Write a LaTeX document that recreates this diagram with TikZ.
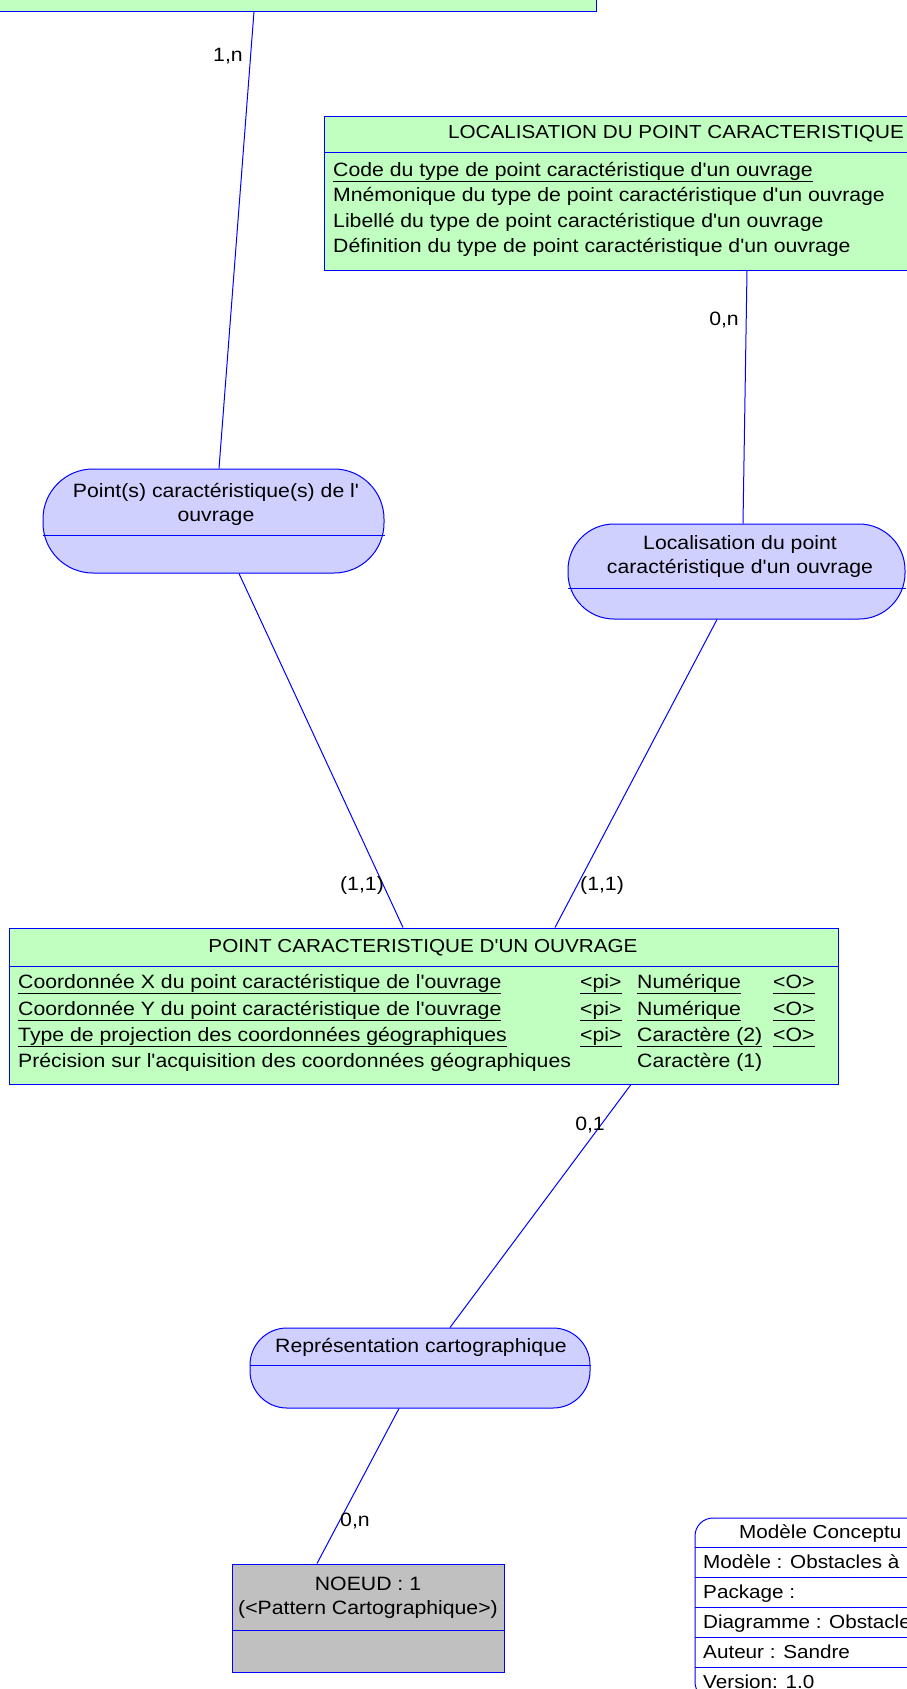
\documentclass[tikz,border=0pt]{standalone}
\usepackage{fontspec}
\setmainfont{Liberation Sans}[FakeStretch=1.1, Ligatures=TeXOff]
\usepackage{tikz}
\usetikzlibrary{positioning}
\definecolor{entgreen}{RGB}{192,255,192}
\definecolor{assocblue}{RGB}{208,208,255}
\definecolor{linkblue}{RGB}{0,0,255}
\definecolor{noeudgray}{RGB}{192,192,192}
\newcommand{\pk}[1]{\underline{#1\vphantom{g}}}
\newcommand{\attrow}[4]{\makebox[562pt][l]{#1}\makebox[57pt][l]{#2}\makebox[136pt][l]{#3}#4}

\begin{document}
\begin{tikzpicture}[x=1pt, y=-1pt, font={\fontsize{19.3}{24}\selectfont},
  entity/.style={draw=linkblue, fill=entgreen, line width=1pt, inner sep=0},
  assoc/.style={draw=linkblue, fill=assocblue, line width=1pt, rounded corners=50pt, inner sep=0},
  link/.style={linkblue, line width=1pt},
  lbl/.style={inner sep=0, text height=14pt, text depth=4pt},
  txt/.style={lbl, anchor=west},
  small/.style={font={\fontsize{18.8}{24}\selectfont}}]
  \useasboundingbox (0,0) rectangle (906,1689);
  % Entities
  \node[entity, minimum width=626pt, minimum height=71pt] (ouv) at (283,-24.5) {};
  \node[entity, minimum width=704pt, minimum height=154pt] (loc) at (676,193) {};
  \node[entity, minimum width=829pt, minimum height=156pt] (pco) at (423.5,1006) {};
  \node[entity, fill=noeudgray, minimum width=272pt, minimum height=108pt] (noeud) at (368,1618) {};
  \draw[link] ([yshift=-37pt]loc.north west) -- ([yshift=-37pt]loc.north east);
  \draw[link] ([yshift=-39pt]pco.north west) -- ([yshift=-39pt]pco.north east);
  \draw[link] ([yshift=-67pt]noeud.north west) -- ([yshift=-67pt]noeud.north east);
  % Associations
  \node[assoc, minimum width=341pt, minimum height=104pt] (a1) at (213.5,521) {};
  \node[assoc, rounded corners=46pt, minimum width=337pt, minimum height=95pt] (a2) at (736.5,571.5) {};
  \node[assoc, rounded corners=37pt, minimum width=340pt, minimum height=80pt] (a3) at (420,1368) {};
  \draw[link] ([yshift=-67pt]a1.north west) -- ([yshift=-67pt]a1.north east);
  \draw[link] ([yshift=-65pt]a2.north west) -- ([yshift=-65pt]a2.north east);
  \draw[link] ([yshift=-38pt]a3.north west) -- ([yshift=-38pt]a3.north east);
  % Links
  \draw[link] ([xshift=-29pt]ouv.south) -- ([xshift=5.5pt]a1.north);
  \draw[link] ([xshift=71pt]loc.south) -- ([xshift=6.5pt]a2.north);
  \draw[link] ([xshift=25.5pt]a1.south) -- ([xshift=-20.5pt]pco.north);
  \draw[link] ([xshift=-19.5pt]a2.south) -- ([xshift=131.5pt]pco.north);
  \draw[link] ([xshift=207.5pt]pco.south) -- ([xshift=30pt]a3.north);
  \draw[link] ([xshift=-21pt]a3.south) -- ([xshift=-51pt]noeud.north);
  % Cardinalities
  \node[lbl] (c1) at (228,56) {1,n};
  \node[lbl] (c2) at (724,320) {0,n};
  \node[lbl] (c3) at (362,885) {(1,1)};
  \node[lbl] (c4) at (602,885) {(1,1)};
  \node[lbl] (c5) at (590,1125) {0,1};
  \node[lbl] (c6) at (355,1521) {0,n};
  % Texts
  \node[lbl, small] (loc-t) at (676,133) {LOCALISATION DU POINT CARACTERISTIQUE};
  \node[txt] (loc-1) at (333,171) {\pk{Code du type de point caractéristique d'un ouvrage}};
  \node[txt] (loc-2) at (333,196) {Mnémonique du type de point caractéristique d'un ouvrage};
  \node[txt] (loc-3) at (333,222) {Libellé du type de point caractéristique d'un ouvrage};
  \node[txt] (loc-4) at (333,247) {Définition du type de point caractéristique d'un ouvrage};
  \node[inner sep=0, align=center] (a1-t) at (216,504) {Point(s) caractéristique(s) de l'\\ouvrage};
  \node[inner sep=0, align=center] (a2-t) at (740,557) {Localisation du point\\caractéristique d'un ouvrage};
  \node[lbl, small] (pco-t) at (423,947) {POINT CARACTERISTIQUE D'UN OUVRAGE};
  \node[txt] (pco-1) at (18,983) {\attrow{\pk{Coordonnée X du point caractéristique de l'ouvrage}}{\pk{<pi>}}{\pk{Numérique}}{\pk{<O>}}};
  \node[txt] (pco-2) at (18,1010) {\attrow{\pk{Coordonnée Y du point caractéristique de l'ouvrage}}{\pk{<pi>}}{\pk{Numérique}}{\pk{<O>}}};
  \node[txt] (pco-3) at (18,1036) {\attrow{\pk{Type de projection des coordonnées géographiques}}{\pk{<pi>}}{\pk{Caractère (2)}}{\pk{<O>}}};
  \node[txt] (pco-4) at (18,1062) {\attrow{Précision sur l'acquisition des coordonnées géographiques}{}{Caractère (1)}{}};
  \node[lbl] (a3-t) at (421,1347) {Représentation cartographique};
  \node[inner sep=0, align=center] (noeud-t) at (368,1598) {NOEUD : 1\\(<Pattern Cartographique>)};
  % Model info
  \node[draw=linkblue, fill=white, line width=1pt, rounded corners=18pt, minimum width=420pt, minimum height=182pt] (info) at (905,1609) {};
  \foreach \k in {1,...,5}
    \draw[link] ([yshift=-30*\k]info.north west) -- ([yshift=-30*\k]info.north east);
  \node[txt, small] (info-t) at (739,1533) {Modèle Conceptu};
  \node[txt, small] (info-1) at (703,1563) {Modèle : Obstacles à};
  \node[txt, small] (info-2) at (703,1593) {Package :};
  \node[txt, small] (info-3) at (703,1623) {Diagramme : Obstacle};
  \node[txt, small] (info-4) at (703,1653) {Auteur : Sandre};
  \node[txt, small] (info-5) at (703,1683) {Version: 1.0};
\end{tikzpicture}
\end{document}
